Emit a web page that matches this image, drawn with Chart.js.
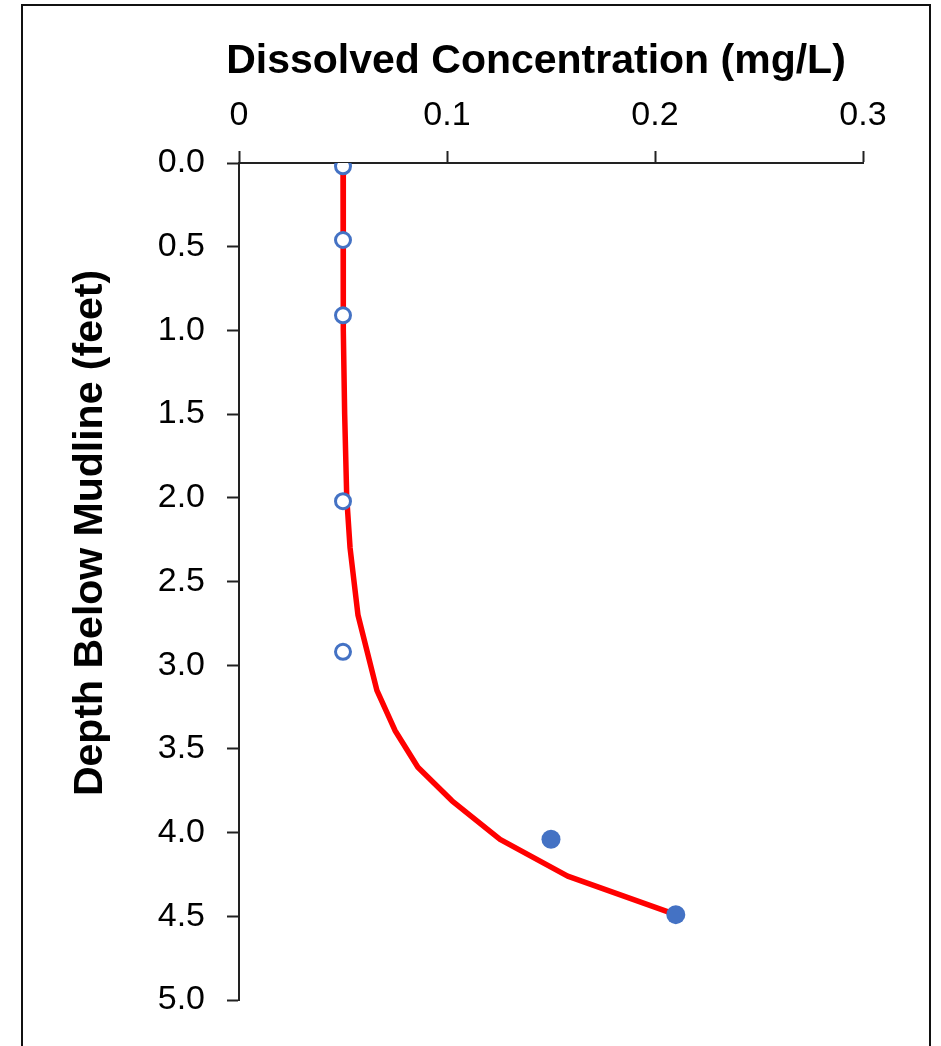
<!DOCTYPE html>
<html>
<head>
<meta charset="utf-8">
<script src="https://cdn.jsdelivr.net/npm/chart.js@4.4.1/dist/chart.umd.min.js"></script>
<style>
  html, body { margin: 0; padding: 0; background: #fff; overflow: hidden; }
  #wrap { position: relative; width: 941px; height: 1046px; }
  #frame { position: absolute; left: 21px; top: 4px; width: 910px; height: 1100px;
           border: 2px solid #111; box-sizing: border-box; pointer-events: none; }
  canvas { position: absolute; left: 0; top: 0; }
</style>
</head>
<body>
<div id="wrap">
  <canvas id="c" width="941" height="1046"></canvas>
  <div id="frame"></div>
</div>
<script>
// ---- data ----
const xTitle = 'Dissolved Concentration (mg/L)';
const yTitle = 'Depth Below Mudline (feet)';
const xTicks = [0, 0.1, 0.2, 0.3];
const yTicks = [0, 0.5, 1, 1.5, 2, 2.5, 3, 3.5, 4, 4.5, 5];

// non-detect samples (hollow markers)
const ndDepth = [0.02, 0.46, 0.91, 2.02, 2.92];
const ndConc  = [0.050, 0.050, 0.050, 0.050, 0.050];

// detected samples (filled markers)
const detDepth = [4.04, 4.49];
const detConc  = [0.150, 0.210];

// model profile (red line)
const modelDepth = [0, 0.5, 1.0, 1.5, 2.0, 2.3, 2.7, 3.15, 3.39, 3.61, 3.81, 4.04, 4.26, 4.49];
const modelConc  = [0.050, 0.050, 0.0503, 0.0508, 0.0518, 0.0534, 0.0572, 0.0663, 0.075, 0.086, 0.1024, 0.1255, 0.158, 0.210];

const toPts = (xs, ys) => xs.map((x, i) => ({ x: x, y: ys[i] }));

const titlePlugin = {
  id: 'axisTitles',
  afterDraw(chart) {
    const ctx = chart.ctx;
    ctx.save();
    ctx.fillStyle = '#000';
    ctx.font = 'bold 41px "Liberation Sans", Arial, sans-serif';
    ctx.textAlign = 'center';
    ctx.textBaseline = 'alphabetic';
    ctx.fillText(xTitle, 536, 73);
    ctx.translate(102, 533);
    ctx.rotate(-Math.PI / 2);
    ctx.fillText(yTitle, 0, 0);
    ctx.restore();
  }
};

const axisColor = '#222';
const tickFont = { family: '"Liberation Sans", Arial, sans-serif', size: 34 };

new Chart(document.getElementById('c'), {
  type: 'scatter',
  data: {
    datasets: [
      {
        label: 'Non-detect',
        data: toPts(ndConc, ndDepth),
        pointRadius: 7.5,
        pointBorderWidth: 3,
        pointBackgroundColor: '#fff',
        pointBorderColor: '#4472C4',
        showLine: false,
        order: 1
      },
      {
        label: 'Detected',
        data: toPts(detConc, detDepth),
        pointRadius: 9.5,
        pointBorderWidth: 0,
        pointBackgroundColor: '#4472C4',
        pointBorderColor: '#4472C4',
        showLine: false,
        order: 1
      },
      {
        label: 'Model',
        data: toPts(modelConc, modelDepth),
        showLine: true,
        borderColor: '#FF0000',
        borderWidth: 5.5,
        pointRadius: 0,
        tension: 0,
        borderCapStyle: 'round',
        borderJoinStyle: 'round',
        order: 2
      }
    ]
  },
  options: {
    responsive: false,
    animation: false,
    events: [],
    layout: { padding: { left: 0, top: 0, right: 78, bottom: 46 } },
    plugins: { legend: { display: false }, tooltip: { enabled: false }, title: { display: false } },
    scales: {
      x: {
        type: 'linear',
        position: 'top',
        min: 0, max: 0.3,
        afterBuildTicks: (s) => { s.ticks = xTicks.map(v => ({ value: v })); },
        afterFit: (s) => { s.height = 163; },
        ticks: {
          font: tickFont, color: '#000', padding: 15,
          callback: (v) => (v === 0 ? '0' : String(Math.round(v * 10) / 10))
        },
        grid: { drawOnChartArea: false, drawTicks: true, tickLength: 12, tickColor: axisColor, tickWidth: 2 },
        border: { display: true, color: axisColor, width: 2 }
      },
      y: {
        type: 'linear',
        reverse: true,
        min: 0, max: 5,
        afterBuildTicks: (s) => { s.ticks = yTicks.map(v => ({ value: v })); },
        afterFit: (s) => { s.width = 239; },
        ticks: {
          font: tickFont, color: '#000', padding: 22,
          callback: (v) => Number(v).toFixed(1)
        },
        grid: { drawOnChartArea: false, drawTicks: true, tickLength: 12, tickColor: axisColor, tickWidth: 2 },
        border: { display: true, color: axisColor, width: 2 }
      }
    }
  },
  plugins: [titlePlugin]
});
</script>
</body>
</html>
